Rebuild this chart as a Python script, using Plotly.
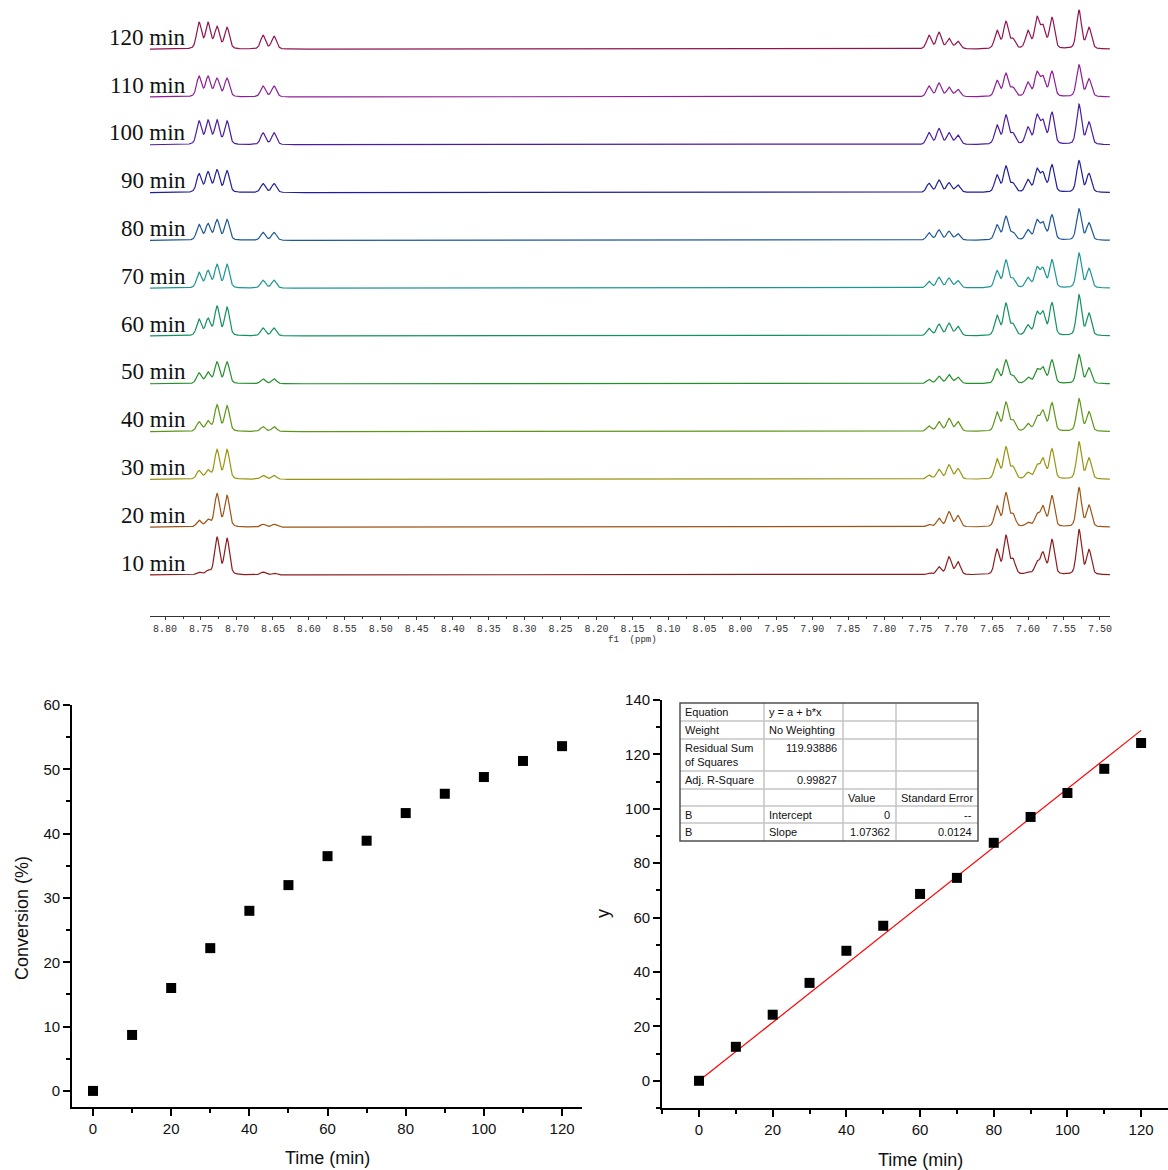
import numpy as np
import plotly.graph_objects as go

W, H = 1168, 1170

# ---------------- data ----------------
TIMES = [10, 20, 30, 40, 50, 60, 70, 80, 90, 100, 110, 120]
TRACE_COLORS = ["#8b1c1c", "#9c5416", "#999410", "#5e9619", "#23902a", "#139160",
                "#1e9595", "#1d5796", "#1f1f99", "#4b1ca0", "#8e1e97", "#901452"]

# peak centres (ppm)
PEAK_PPM = [8.7527, 8.7402, 8.7277, 8.7138, 8.6637, 8.6484,
            7.7377, 7.7238, 7.7099, 7.6974, 7.6431, 7.6307, 7.6209,
            7.6001, 7.5875, 7.5792, 7.5667, 7.5291, 7.5152]

# observed peak heights for every spectrum (same order as PEAK_PPM)
H10 = [3, 5, 38, 37, 3, 2, 2, 8.3, 18.3, 13.3, 26, 40, 16.7, 3.3, 14, 23.3, 35.7, 45.7, 25.7]
H20 = [7, 8, 34, 32, 3, 3, 3, 9, 15.7, 11.7, 21.7, 34.7, 14, 5, 14, 21.7, 31.7, 39.7, 22.3]
H30 = [9, 10, 30, 30, 4, 4, 4.3, 10, 14.7, 11, 20.7, 32.7, 13.3, 7.3, 15, 21.7, 30.7, 37.7, 21.7]
H40 = [10, 11, 27, 26, 5, 5, 5.7, 10, 13.3, 10, 19.7, 29.7, 12.3, 8.3, 16, 21.7, 29, 33, 20]
H50 = [11, 12, 22, 22, 5, 5, 4.3, 7.7, 9.3, 6.7, 15, 24, 9, 6.7, 15, 17.3, 24, 29.3, 16]
H60 = [17, 18, 30, 29, 8, 8, 7.7, 12, 13, 9.7, 21, 33, 12.7, 11.3, 24.7, 25.3, 33.7, 41.3, 23]
H70 = [16, 18, 24, 24, 8, 8, 7, 11, 10.3, 7.7, 17.7, 28.3, 10.3, 11, 21.7, 21, 28.7, 35.3, 20]
H80 = [16, 17, 21, 21, 8, 8, 7.7, 10.7, 9.3, 6.7, 15.7, 24.3, 9, 11, 21, 19, 25.7, 31.7, 17.7]
H90 = [19, 21, 23, 22, 9, 9, 9.3, 12.7, 10, 7.7, 17.7, 26.7, 10, 13.3, 24.3, 21, 28, 32, 19.3]
H100 = [24, 25, 25, 24, 12, 12, 12.3, 16.3, 12.3, 9.7, 20, 30, 12.3, 18, 30.7, 25.7, 33, 40.7, 23]
H110 = [21, 21, 19, 19, 11, 11, 11, 14, 10, 7.7, 16.7, 24, 10, 15, 25.7, 21.7, 26, 32.3, 18.3]
H120 = [27, 27, 23, 22, 14, 13, 14, 17, 11, 8, 19, 28, 11, 19, 33, 25, 32, 39, 22]
HEIGHTS = [H10, H20, H30, H40, H50, H60, H70, H80, H90, H100, H110, H120]

PPM_TICKS = [8.80, 8.75, 8.70, 8.65, 8.60, 8.55, 8.50, 8.45, 8.40, 8.35, 8.30, 8.25, 8.20,
             8.15, 8.10, 8.05, 8.00, 7.95, 7.90, 7.85, 7.80, 7.75, 7.70, 7.65, 7.60, 7.55, 7.50]

TIME_PTS = [0, 10, 20, 30, 40, 50, 60, 70, 80, 90, 100, 110, 120]
CONVERSION = [0, 8.7, 16.0, 22.2, 28.0, 32.0, 36.5, 38.9, 43.2, 46.2, 48.8, 51.3, 53.6]
Y_VALUES = [0, 12.5, 24.3, 36.0, 47.8, 57.0, 68.7, 74.6, 87.5, 97.0, 105.8, 114.7, 124.2]
FIT_INTERCEPT = 0.0
FIT_SLOPE = 1.07362

TABLE_ROWS = [
    ["Equation", "y = a + b*x", "", ""],
    ["Weight", "No Weighting", "", ""],
    ["Residual Sum<br>of Squares", "119.93886", "", ""],
    ["Adj. R-Square", "0.99827", "", ""],
    ["", "", "Value", "Standard Error"],
    ["B", "Intercept", "0", "--"],
    ["B", "Slope", "1.07362", "0.0124"],
]

# ---------------- helpers ----------------
def px(x):
    return x / W


def py(y):
    return 1 - y / H


HWHM = 0.0040
ETA = 0.3


def pv(d):
    l = 1.0 / (1.0 + (d / HWHM) ** 2)
    g = np.exp(-np.log(2) * (d / HWHM) ** 2)
    return ETA * l + (1 - ETA) * g


fig = go.Figure()

# ---------------- top: stacked NMR spectra ----------------
X_LEFT, X_RIGHT = 8.8209, 7.4860
ppm = np.arange(X_LEFT, X_RIGHT, -0.0003)
centres = np.array(PEAK_PPM)
A = pv(centres[:, None] - centres[None, :])

BASE0 = 41.0
STEP = 47.8
for i, (t, hts, col) in enumerate(zip(TIMES, HEIGHTS, TRACE_COLORS)):
    amp = np.clip(np.linalg.solve(A, np.array(hts, dtype=float)), 0, None)
    spec = (amp[None, :] * pv(ppm[:, None] - centres[None, :])).sum(axis=1)
    off = BASE0 + STEP * i
    fig.add_trace(go.Scatter(x=ppm, y=spec + off, mode="lines",
                             line=dict(color=col, width=1.2),
                             xaxis="x", yaxis="y", showlegend=False, hoverinfo="skip"))
    fig.add_annotation(text=f"{t} min", xref="paper", yref="y", x=px(188), y=off + 12,
                       xanchor="right", yanchor="middle", showarrow=False,
                       font=dict(family="Liberation Serif", size=23, color="#111"))

fig.add_annotation(text="f1  (ppm)", xref="paper", yref="paper", x=px(632), y=py(640),
                   xanchor="center", yanchor="middle", showarrow=False,
                   font=dict(family="Liberation Mono", size=9, color="#333"))

# ---------------- bottom-left: conversion ----------------
fig.add_trace(go.Scatter(x=TIME_PTS, y=CONVERSION, mode="markers",
                         marker=dict(symbol="square", size=10, color="black"),
                         xaxis="x2", yaxis="y2", showlegend=False))

# ---------------- bottom-right: linear fit ----------------
fit_x = np.array([TIME_PTS[0], TIME_PTS[-1]], dtype=float)
fig.add_trace(go.Scatter(x=fit_x, y=FIT_INTERCEPT + FIT_SLOPE * fit_x, mode="lines",
                         line=dict(color="red", width=1.2),
                         xaxis="x3", yaxis="y3", showlegend=False))
fig.add_trace(go.Scatter(x=TIME_PTS, y=Y_VALUES, mode="markers",
                         marker=dict(symbol="square", size=10, color="black"),
                         xaxis="x3", yaxis="y3", showlegend=False))

# table
COLS = [680, 764, 843, 896, 978]
ROWS = [703, 721, 739, 771, 789, 806, 823, 841]
shapes = []
for cx in COLS[1:-1]:
    shapes.append(dict(type="line", xref="paper", yref="paper", x0=px(cx), x1=px(cx),
                       y0=py(ROWS[0]), y1=py(ROWS[-1]), line=dict(color="#c4c4c4", width=1.5)))
for ry in ROWS[1:-1]:
    shapes.append(dict(type="line", xref="paper", yref="paper", x0=px(COLS[0]), x1=px(COLS[-1]),
                       y0=py(ry), y1=py(ry), line=dict(color="#c4c4c4", width=1.5)))
shapes.append(dict(type="rect", xref="paper", yref="paper", x0=px(COLS[0]), x1=px(COLS[-1]),
                   y0=py(ROWS[-1]), y1=py(ROWS[0]), line=dict(color="#505050", width=1.5)))

tf = dict(family="Liberation Sans", size=11, color="#111")
for r, row in enumerate(TABLE_ROWS):
    for c, txt in enumerate(row):
        if not txt:
            continue
        right = (c >= 1 and (txt[0].isdigit() or txt == "--"))
        if r == 2 and c == 1:
            yc = ROWS[r] + 9
        else:
            yc = (ROWS[r] + ROWS[r + 1]) / 2
        if right:
            xx, xa = px(COLS[c + 1] - 4), "right"
        else:
            xx, xa = px(COLS[c] + 3), "left"
        fig.add_annotation(text=txt, xref="paper", yref="paper", x=xx, y=py(yc),
                           xanchor=xa, yanchor="middle", showarrow=False, font=tf,
                           align="left")

# axis titles
af = dict(family="Liberation Sans", size=18, color="#111")
fig.add_annotation(text="Time (min)", xref="paper", yref="paper", x=px(327), y=py(1158),
                   xanchor="center", yanchor="middle", showarrow=False, font=af)
fig.add_annotation(text="Time (min)", xref="paper", yref="paper", x=px(920), y=py(1160),
                   xanchor="center", yanchor="middle", showarrow=False, font=af)
fig.add_annotation(text="Conversion (%)", xref="paper", yref="paper", x=px(22), y=py(918),
                   xanchor="center", yanchor="middle", showarrow=False, font=af, textangle=-90)
fig.add_annotation(text="y", xref="paper", yref="paper", x=px(603), y=py(914),
                   xanchor="center", yanchor="middle", showarrow=False, font=af, textangle=-90)

tick_font = dict(family="Liberation Sans", size=15, color="#111")
common = dict(showline=True, linecolor="black", linewidth=1.8, ticks="outside",
              tickcolor="black", tickwidth=1.5, ticklen=7, showgrid=False, zeroline=False,
              tickfont=tick_font, automargin=False)

fig.update_layout(
    width=W, height=H, margin=dict(l=0, r=0, t=0, b=0, pad=0, autoexpand=False), autosize=False,
    paper_bgcolor="white", plot_bgcolor="white",
    shapes=shapes,
    xaxis=dict(domain=[px(150), px(1110)], range=[X_LEFT, X_RIGHT], anchor="y",
               showline=True, linecolor="#333", linewidth=1, ticks="outside",
               ticklen=3, tickcolor="#333", tickwidth=1, automargin=False,
               tickmode="array", tickvals=PPM_TICKS, ticktext=[f"{v:.2f}" for v in PPM_TICKS],
               tickfont=dict(family="Liberation Mono", size=10, color="#333"),
               minor=dict(dtick=0.025, tick0=8.8, ticklen=2, tickcolor="#333", ticks="outside"),
               showgrid=False, zeroline=False),
    yaxis=dict(domain=[py(616), 1], range=[0, 616], visible=False, anchor="x", automargin=False),
    xaxis2=dict(domain=[px(72), px(582)], range=[-5.37, 125.1], anchor="y2",
                tick0=0, dtick=20,
                minor=dict(dtick=10, ticklen=4, tickcolor="black", ticks="outside"), **common),
    yaxis2=dict(domain=[py(1107), py(705)], range=[-2.5, 60], anchor="x2",
                tick0=0, dtick=10,
                minor=dict(dtick=5, ticklen=4, tickcolor="black", ticks="outside"), **common),
    xaxis3=dict(domain=[px(662), 1.0], range=[-10.05, 127.3], anchor="y3",
                tick0=0, dtick=20,
                minor=dict(dtick=10, ticklen=4, tickcolor="black", ticks="outside"), **common),
    yaxis3=dict(domain=[py(1108), py(700)], range=[-10, 140], anchor="x3",
                tick0=0, dtick=20,
                minor=dict(dtick=10, ticklen=4, tickcolor="black", ticks="outside"), **common),
)

fig.write_html("out.html")
